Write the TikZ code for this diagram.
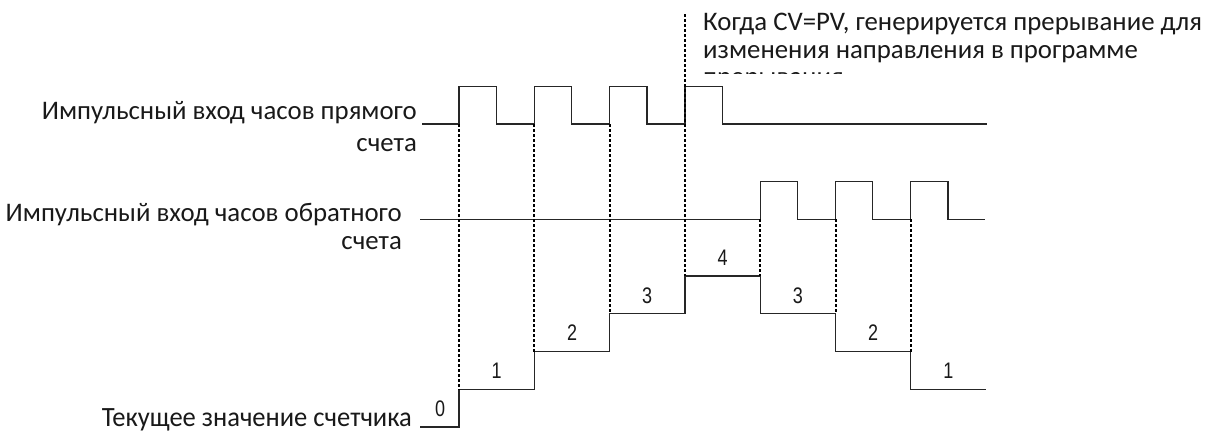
\documentclass[tikz,border=0pt]{standalone}
\usepackage{fontspec}
\setmainfont{Carlito}
\newfontfamily\digitfont{Liberation Sans}
\begin{document}
\begin{tikzpicture}[x=1pt,y=-1pt,
  sig/.style={line width=1.3pt, draw=black!85, line join=miter},
  dots/.style={line width=2pt, draw=black, dash pattern=on 2.5pt off 2.5pt},
  lbl/.style={font=\fontsize{26.8}{32}\selectfont, inner sep=0pt, text=black!90},
  note/.style={font=\fontsize{26.8}{32}\selectfont, inner sep=0pt, text=black!90, anchor=base west},
  num/.style={font=\digitfont\fontsize{22.5}{26}\selectfont, inner sep=0pt, text=black!90}]
\useasboundingbox (0,0) rectangle (1215,432);

% labels
\node[lbl, anchor=base east] (u1) at (417,119) {Импульсный вход часов прямого};
\node[lbl, anchor=base east] (u2) at (417,151) {счета};
\node[lbl, anchor=base east] (d1) at (402,221) {Импульсный вход часов обратного};
\node[lbl, anchor=base east] (d2) at (402,249) {счета};
\node[lbl, anchor=base east] (c1) at (412,426) {\scalebox{0.99}[1.04]{Текущее значение счетчика}};

% note text (clipped)
\begin{scope}
\clip (690,0) rectangle (1215,73.5);
\node[note] (n1) at (703,30.5) {Когда CV=PV, генерируется прерывание для};
\node[note] (n2) at (703,58) {изменения направления в программе};
\node[note] (n3) at (703,85.5) {прерывания};
\end{scope}

% up-count pulses
\draw[sig] (422,124) -- (459,124) -- (459,86.5) -- (496.3,86.5) -- (496.3,124)
  -- (534.3,124) -- (534.3,86.5) -- (571.6,86.5) -- (571.6,124)
  -- (609.6,124) -- (609.6,86.5) -- (646.9,86.5) -- (646.9,124)
  -- (684.9,124) -- (684.9,86.5) -- (722.2,86.5) -- (722.2,124) -- (987,124);

% down-count pulses
\draw[sig] (420,219.2) -- (760.2,219.2) -- (760.2,181.7) -- (797.5,181.7) -- (797.5,219.2)
  -- (835.5,219.2) -- (835.5,181.7) -- (872.8,181.7) -- (872.8,219.2)
  -- (910.8,219.2) -- (910.8,181.7) -- (948.1,181.7) -- (948.1,219.2) -- (985,219.2);

% counter staircase
\draw[sig] (420,427) -- (459,427) -- (459,389.5) -- (534.3,389.5) -- (534.3,351.5)
  -- (609.6,351.5) -- (609.6,313.5) -- (684.9,313.5) -- (684.9,276)
  -- (760.2,276) -- (760.2,313.5) -- (835.5,313.5) -- (835.5,351.5)
  -- (910.8,351.5) -- (910.8,389.5) -- (986,389.5);

% dotted guides
\draw[dots] (459,124) -- (459,389.5);
\draw[dots] (534.3,124) -- (534.3,351.5);
\draw[dots] (609.6,124) -- (609.6,313.5);
\draw[dots] (684.9,14) -- (684.9,276);
\draw[dots] (760.2,219.2) -- (760.2,276);
\draw[dots] (835.5,219.2) -- (835.5,313.5);
\draw[dots] (910.8,219.2) -- (910.8,351.5);

% counter values
\node[num] (v0) at (440,409) {\scalebox{0.8}[1]{0}};
\node[num] (v1) at (496.6,371) {\scalebox{0.8}[1]{1}};
\node[num] (v2) at (572,333) {\scalebox{0.8}[1]{2}};
\node[num] (v3) at (647.2,295.5) {\scalebox{0.8}[1]{3}};
\node[num] (v4) at (722.5,257.5) {\scalebox{0.8}[1]{4}};
\node[num] (v5) at (797.9,295.5) {\scalebox{0.8}[1]{3}};
\node[num] (v6) at (873.1,333) {\scalebox{0.8}[1]{2}};
\node[num] (v7) at (948.4,371) {\scalebox{0.8}[1]{1}};
\end{tikzpicture}
\end{document}
